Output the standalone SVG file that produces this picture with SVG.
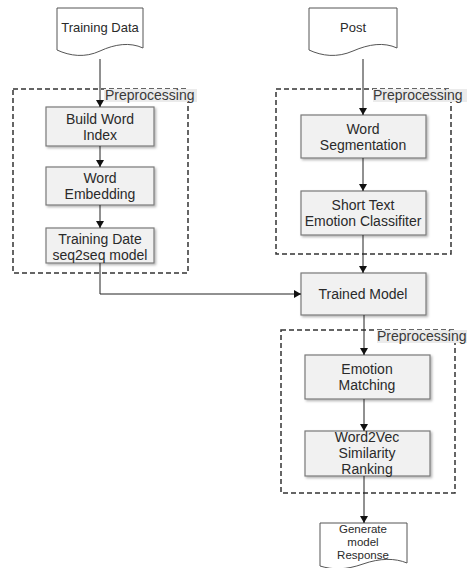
<svg xmlns="http://www.w3.org/2000/svg" width="467" height="568" viewBox="0 0 467 568">
<defs>
<marker id="ah" markerWidth="8" markerHeight="8" refX="7" refY="4" orient="auto" markerUnits="userSpaceOnUse">
<path d="M0,0 L7,4 L0,8 Z" fill="#111"/>
</marker>
<filter id="sh" x="-10%" y="-10%" width="130%" height="140%">
<feDropShadow dx="1.5" dy="1.5" stdDeviation="0.8" flood-color="#000" flood-opacity="0.3"/>
</filter>
</defs>
<style>
.box{fill:#f1f1f1;stroke:#7a7a7a;stroke-width:1.2;filter:url(#sh)}
.doc{fill:#fff;stroke:#555;stroke-width:1}
.grp{fill:none;stroke:#333;stroke-width:1.5;stroke-dasharray:5 3}
.lbl{fill:#ebebeb}
text{font-family:"Liberation Sans",Arial,sans-serif;font-size:14px;fill:#2a2a2a;text-anchor:middle}
.lt{text-anchor:start;fill:#3a3a3a}
.dt{font-size:13px}
.sm{font-size:11.5px}
.c{fill:none;stroke:#222;stroke-width:1;marker-end:url(#ah)}
</style>

<g id="group-left">
<rect class="grp" x="13" y="89" width="175" height="184"/>
<rect class="lbl" x="104" y="89" width="93" height="13"/>
<text class="lt" x="105" y="100">Preprocessing</text>
</g>
<g id="group-right">
<rect class="grp" x="276" y="89" width="175" height="165"/>
<rect class="lbl" x="373" y="89" width="94" height="13"/>
<text class="lt" x="373" y="100">Preprocessing</text>
</g>
<g id="group-bottom">
<rect class="grp" x="281" y="330" width="174" height="163"/>
<rect class="lbl" x="377" y="330" width="90" height="13"/>
<text class="lt" x="377" y="341">Preprocessing</text>
</g>

<g id="training-data">
<path class="doc" d="M57,8 H143 V48 C130,42 115,44 100,51 S70,56 57,50 Z"/>
<text class="dt" x="100" y="32">Training Data</text>
</g>
<g id="post">
<path class="doc" d="M309,8 H397 V48 C384,42 369,44 353,51 S322,56 309,50 Z"/>
<text class="dt" x="353" y="32">Post</text>
</g>
<g id="build-word-index">
<rect class="box" x="46" y="107" width="108" height="39"/>
<text x="100" y="124">Build Word</text>
<text x="100" y="140">Index</text>
</g>
<g id="word-embedding">
<rect class="box" x="46" y="167" width="108" height="38"/>
<text x="100" y="183">Word</text>
<text x="100" y="199">Embedding</text>
</g>
<g id="training-date">
<rect class="box" x="46" y="228" width="108" height="35"/>
<text x="100" y="244">Training Date</text>
<text x="100" y="260">seq2seq model</text>
</g>
<g id="word-segmentation">
<rect class="box" x="301" y="115" width="125" height="43"/>
<text x="363" y="134">Word</text>
<text x="363" y="150">Segmentation</text>
</g>
<g id="short-text">
<rect class="box" x="301" y="191" width="125" height="44"/>
<text x="363" y="210">Short Text</text>
<text x="363" y="226">Emotion Classifiter</text>
</g>
<g id="trained-model">
<rect class="box" x="301" y="273" width="125" height="42"/>
<text x="363" y="299">Trained Model</text>
</g>
<g id="emotion-matching">
<rect class="box" x="305" y="355" width="125" height="44"/>
<text x="367" y="374">Emotion</text>
<text x="367" y="390">Matching</text>
</g>
<g id="word2vec">
<rect class="box" x="305" y="431" width="125" height="45"/>
<text x="367" y="442">Word2Vec</text>
<text x="367" y="458">Similarity</text>
<text x="367" y="474">Ranking</text>
</g>
<g id="generate-response">
<path class="doc" d="M320,523 H407 V563 C395,558 380,558 363,564 S333,570 320,566 Z"/>
<text class="sm" x="363" y="533">Generate</text>
<text class="sm" x="363" y="546">model</text>
<text class="sm" x="363" y="559">Response</text>
</g>

<g id="connectors">
<path class="c" d="M100,59 V107"/>
<path class="c" d="M100,146 V167"/>
<path class="c" d="M100,205 V228"/>
<path class="c" d="M100,263 V294 H301"/>
<path class="c" d="M363,59 V115"/>
<path class="c" d="M363,158 V191"/>
<path class="c" d="M363,235 V273"/>
<path class="c" d="M364,315 V355"/>
<path class="c" d="M364,399 V431"/>
<path class="c" d="M364,476 V523"/>
</g>
</svg>
